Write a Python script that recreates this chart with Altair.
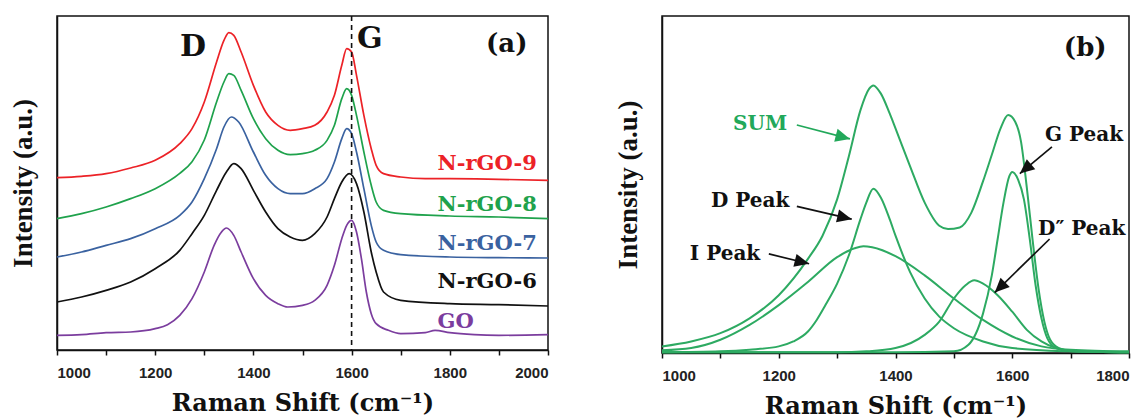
import math
import altair as alt
import pandas as pd

# ---------------- Panel (a): Raman spectra (intensity in arbitrary units) ----------------
red_x = [1000,1050,1100,1150,1200,1250,1275,1300,1325,1340,1350,1360,1375,1400,1425,1450,1475,1500,1525,1550,1565,1580,1590,1600,1610,1625,1640,1650,1665,1700,1750,1800,1900,2000]
red_y = [517,521,529,546,569,619,664,744,864,929,952,944,894,794,714,674,659,664,674,714,764,854,904,894,824,704,604,554,529,519,514,514,512,509]

green_x = [1000,1050,1100,1150,1200,1250,1275,1300,1325,1340,1350,1360,1375,1400,1425,1450,1475,1500,1525,1550,1565,1580,1590,1600,1610,1625,1640,1650,1665,1700,1800,1900,2000]
green_y = [394,409,429,454,484,530,565,630,744,804,829,824,779,694,634,599,586,589,599,629,674,754,784,764,704,594,494,444,419,409,402,399,394]

blue_x = [1000,1050,1100,1150,1200,1250,1275,1300,1325,1340,1355,1370,1400,1425,1450,1475,1500,1525,1550,1565,1580,1590,1600,1610,1625,1640,1650,1665,1700,1800,1900,2000]
blue_y = [279,294,314,334,364,404,444,514,604,669,699,684,594,524,484,469,469,484,514,564,634,664,649,594,484,374,324,299,286,279,277,276]

black_x = [1000,1050,1100,1150,1200,1250,1275,1300,1325,1345,1360,1375,1400,1425,1450,1475,1500,1525,1550,1565,1580,1595,1610,1625,1640,1650,1665,1700,1800,1900,2000]
black_y = [144,159,179,204,244,299,349,404,479,534,559,544,479,414,364,339,329,349,399,454,504,529,499,414,294,234,174,149,139,136,132]

purple_x = [1000,1050,1100,1150,1200,1225,1250,1275,1300,1320,1335,1345,1360,1375,1400,1425,1450,1470,1500,1525,1550,1565,1580,1590,1600,1610,1620,1630,1640,1650,1675,1700,1750,1770,1800,1850,1900,2000]
purple_y = [44,46,52,54,64,76,104,154,234,314,354,366,344,294,214,164,139,129,134,149,194,254,334,374,389,354,274,174,109,79,59,49,52,59,52,46,44,46]

series_a = ["N-rGO-9", "N-rGO-8", "N-rGO-7", "N-rGO-6", "GO"]
colors_a = ["#EC2227", "#1FA24C", "#3A62A0", "#111111", "#7B3D9E"]
label_y_a = [558, 435, 318, 204, 84]
label_x_a = 1775
g_line_x = 1600

# ---------------- Panel (b): peak fitting ----------------
sum_x = [1000,1050,1100,1150,1200,1250,1275,1300,1320,1340,1355,1362,1375,1390,1400,1425,1450,1475,1490,1510,1530,1550,1565,1580,1593,1605,1615,1625,1635,1645,1655,1665,1680,1700,1800]
sum_y = [20,35,60,105,175,285,355,465,595,735,800,810,785,725,680,565,455,385,375,380,425,520,600,680,720,700,640,500,340,195,95,40,15,7,2]

i_x = [1000,1050,1100,1150,1200,1250,1300,1330,1345,1360,1400,1450,1500,1550,1600,1650,1700,1800]
i_y = [8,15,40,85,145,215,290,317,323,320,293,235,165,100,50,20,10,5]

d_x = [1000,1100,1150,1200,1225,1250,1265,1280,1300,1320,1340,1350,1362,1375,1390,1400,1425,1450,1475,1500,1550,1600,1700,1800]
d_y = [2,5,10,20,35,65,100,145,210,295,405,455,497,470,405,355,245,165,110,75,35,15,5,2]

dd_x = [1000,1300,1350,1400,1450,1475,1500,1520,1535,1550,1575,1600,1625,1650,1675,1700,1800]
dd_y = [2,2,5,15,55,95,165,205,220,210,175,125,70,35,15,7,2]

g_x = [1000,1400,1500,1525,1550,1565,1575,1585,1595,1600,1610,1620,1630,1640,1650,1660,1675,1700,1800]
g_y = [2,2,5,25,120,235,345,455,535,548,525,465,345,205,105,45,15,5,2]

# annotations of panel (b): label, text x/y, arrow start x/y, arrow end x/y, colour
ann_labels = ["SUM", "D Peak", "I Peak", "G Peak", "D\u2033 Peak"]
ann_text_x = [1168, 1151, 1108, 1723, 1719]
ann_text_y = [693, 459, 300, 660, 375]
ann_x1 = [1231, 1231, 1183, 1668, 1664]
ann_y1 = [690, 444, 300, 624, 345]
ann_x2 = [1322, 1325, 1252, 1613, 1570]
ann_y2 = [648, 405, 270, 543, 183]
ann_colors = ["#22A85A", "#111111", "#111111", "#111111", "#111111"]

CURVE_B = "#2DAA62"
SERIF = "Liberation Serif"
WIDE = "DejaVu Serif"
W1, H1 = 491, 334
W2, H2 = 467, 337
YMAX_A = 1002
YMAX_B = 1020

# ---------------- build panel (a) ----------------
rows = []
for name, xs, ys in zip(series_a, [red_x, green_x, blue_x, black_x, purple_x],
                        [red_y, green_y, blue_y, black_y, purple_y]):
    for x, y in zip(xs, ys):
        rows.append({"x": x, "y": y, "s": name})
df_a = pd.DataFrame(rows)

color_a = alt.Color("s:N", scale=alt.Scale(domain=series_a, range=colors_a), legend=None)

x_a = alt.X("x:Q", scale=alt.Scale(domain=[1000, 2000], nice=False),
            axis=alt.Axis(values=list(range(1000, 2001, 100)), format="d",
                          labelExpr="datum.value % 200 == 0 ? datum.label : ''",
                          title="Raman Shift (cm\u207b\u00b9)"))
y_a = alt.Y("y:Q", scale=alt.Scale(domain=[0, YMAX_A], nice=False, zero=False),
            axis=alt.Axis(labels=False, ticks=False, title="Intensity (a.u.)"))

lines_a = alt.Chart(df_a).mark_line(strokeWidth=1.7, interpolate="monotone").encode(
    x=x_a, y=y_a, color=color_a, detail="s:N")

rule_df = pd.DataFrame({"x": [g_line_x]})
rule_a = alt.Chart(rule_df).mark_rule(color="#111", strokeDash=[5, 4], strokeWidth=1.6).encode(
    x="x:Q", y=alt.value(0), y2=alt.value(H1))

lab_df = pd.DataFrame({"s": series_a, "x": [label_x_a] * 5, "y": label_y_a})
labels_a = alt.Chart(lab_df).mark_text(align="left", baseline="middle", font=WIDE,
                                       fontWeight="bold", fontSize=21).encode(
    x="x:Q", y="y:Q", text="s:N", color=color_a)

big_df = pd.DataFrame({"t": ["D", "G"], "x": [1277, 1637], "y": [909, 933]})
big_a = alt.Chart(big_df).mark_text(align="center", baseline="middle", font=WIDE,
                                    fontWeight="bold", fontSize=30, color="#111").encode(
    x="x:Q", y="y:Q", text="t:N")

tag_a_df = pd.DataFrame({"t": ["(a)"], "x": [1916], "y": [918]})
tag_a = alt.Chart(tag_a_df).mark_text(align="center", baseline="middle", font=WIDE,
                                      fontWeight="bold", fontSize=26, color="#111").encode(
    x="x:Q", y="y:Q", text="t:N")

panel_a = alt.layer(lines_a, rule_a, labels_a, big_a, tag_a).properties(
    width=W1, height=H1, title=alt.TitleParams(text=" ", fontSize=1, offset=5))

# ---------------- build panel (b) ----------------
rows = []
for name, xs, ys in zip(["SUM", "I", "D", "D2", "G"], [sum_x, i_x, d_x, dd_x, g_x],
                        [sum_y, i_y, d_y, dd_y, g_y]):
    for x, y in zip(xs, ys):
        rows.append({"x": x, "y": y, "s": name})
df_b = pd.DataFrame(rows)

x_b = alt.X("x:Q", scale=alt.Scale(domain=[1000, 1800], nice=False),
            axis=alt.Axis(values=list(range(1000, 1801, 100)), format="d",
                          labelExpr="datum.value % 200 == 0 ? datum.label : ''",
                          title="Raman Shift (cm\u207b\u00b9)"))
y_b = alt.Y("y:Q", scale=alt.Scale(domain=[0, YMAX_B], nice=False, zero=False),
            axis=alt.Axis(labels=False, ticks=False, title="Intensity (a.u.)"))

lines_b = alt.Chart(df_b).mark_line(strokeWidth=2, color=CURVE_B, interpolate="monotone").encode(
    x=x_b, y=y_b, detail="s:N")

angles = []
for x1, y1, x2, y2 in zip(ann_x1, ann_y1, ann_x2, ann_y2):
    dxp = (x2 - x1) * W2 / 800.0
    dyp = -(y2 - y1) * H2 / float(YMAX_B)
    angles.append(math.degrees(math.atan2(dxp, -dyp)) % 360)

ann_df = pd.DataFrame({"t": ann_labels, "tx": ann_text_x, "ty": ann_text_y,
                       "x1": ann_x1, "y1": ann_y1, "x2": ann_x2, "y2": ann_y2,
                       "c": ann_colors, "ang": angles})

ann_text = alt.Chart(ann_df).mark_text(align="center", baseline="middle", font=WIDE,
                                       fontWeight="bold", fontSize=20).encode(
    x="tx:Q", y="ty:Q", text="t:N", color=alt.Color("c:N", scale=None))
ann_rule = alt.Chart(ann_df).mark_rule(strokeWidth=1.7).encode(
    x="x1:Q", y="y1:Q", x2="x2:Q", y2="y2:Q", color=alt.Color("c:N", scale=None))
ann_head = alt.Chart(ann_df).mark_point(shape="M0,0L0.5,1.1L-0.5,1.1Z", filled=True, size=700,
                                        opacity=1).encode(
    x="x2:Q", y="y2:Q", angle=alt.Angle("ang:Q", scale=None),
    color=alt.Color("c:N", scale=None))

tag_b_df = pd.DataFrame({"t": ["(b)"], "x": [1725], "y": [924]})
tag_b = alt.Chart(tag_b_df).mark_text(align="center", baseline="middle", font=WIDE,
                                      fontWeight="bold", fontSize=26, color="#111").encode(
    x="x:Q", y="y:Q", text="t:N")

panel_b = alt.layer(lines_b, ann_rule, ann_head, ann_text, tag_b).properties(width=W2, height=H2)

chart = alt.hconcat(panel_a, panel_b, spacing=60).properties(
    padding={"left": 0, "top": 0, "right": 0, "bottom": 0}
).configure_axis(
    labelFont="Liberation Sans", labelFontSize=15, labelFontWeight="bold", labelColor="#222",
    labelPadding=10, tickColor="#111", tickSize=5, tickWidth=1.5, domainColor="#111",
    domainWidth=1.5, grid=False, titleFont=SERIF, titleFontSize=27, titleFontWeight="bold",
    titleColor="#111"
).configure_axisX(titlePadding=11, titleFont=WIDE, titleFontSize=24).configure_axisY(
    titlePadding=20
).configure_view(
    stroke="#111", strokeWidth=1.5
).configure_concat(spacing=60)

chart.save("out.html", embed_options={"renderer": "svg", "actions": False})
